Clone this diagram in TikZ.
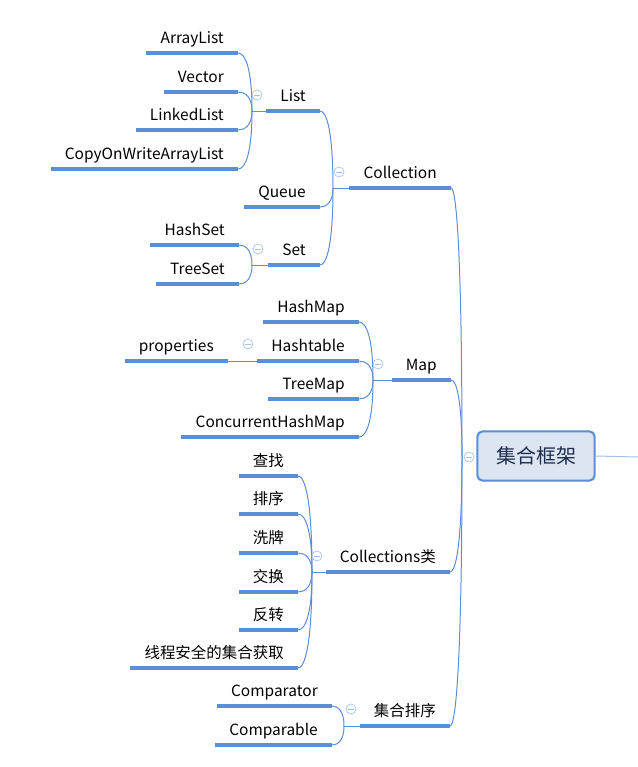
\documentclass[tikz,border=0pt]{standalone}
\usepackage{fontspec}
\setmainfont{Noto Sans CJK SC}
\usetikzlibrary{calc}

\definecolor{xblue}{HTML}{5A8ED6}
\definecolor{xroot}{HTML}{DCE6F2}
\definecolor{xtext}{HTML}{1F2D4D}

\tikzset{
  uline/.style={draw=xblue, line width=2.6pt},
  conn/.style={draw=xblue, line width=0.75pt},
  topic/.style={anchor=south east, inner xsep=10.5pt, inner ysep=4.2pt,
    text height=8.5pt, text depth=2.5pt, font=\fontsize{11.6}{14}\selectfont,
    append after command={(\tikzlastnode.south west) edge[uline] (\tikzlastnode.south east)}},
  rootbox/.style={draw=xblue, line width=1.6pt, rounded corners=4pt, fill=xroot,
    minimum width=88pt, minimum height=37pt, text=xtext, font=\fontsize{15}{18}\selectfont},
  fold/.style={circle, draw=xblue!55, fill=white, line width=0.5pt, inner sep=0pt, minimum size=7.5pt,
    path picture={\draw[xblue!55, line width=0.5pt] ([xshift=-2pt]path picture bounding box.center) -- ([xshift=2pt]path picture bounding box.center);}},
  branch/.style={conn, to path={.. controls ($(\tikztostart)!0.75!(\tikztostart|-\tikztotarget)$)
    and ($(\tikztotarget)!0.5!(\tikztostart|-\tikztotarget)$) .. (\tikztotarget)}}
}

\begin{document}
\begin{tikzpicture}[x=0.75pt, y=-0.75pt]
  \useasboundingbox (0,0) rectangle (638,767);

  % root
  \node[rootbox] (root) at (536,456) {集合框架};
  \coordinate (rootout) at (638,457);
  \draw[conn, xblue!55] (root.east) -- (rootout);

  % joints
  \coordinate (j-root) at (462,457);
  \coordinate (j-coll) at (333,188);
  \coordinate (j-list) at (252,111);
  \coordinate (j-set) at (252,265);
  \coordinate (j-map) at (373,380);
  \coordinate (j-htab) at (243,361);
  \coordinate (j-colls) at (312,572);
  \coordinate (j-sort) at (344,726);

  % first level
  \node[topic] (coll) at (451,188) {Collection};
  \node[topic] (map) at (451,380) {Map};
  \node[topic] (colls) at (450,572) {Collections类};
  \node[topic] (sort) at (450,726) {集合排序};

  % Collection
  \node[topic] (list) at (320,111) {List};
  \node[topic] (queue) at (320,207) {Queue};
  \node[topic] (set) at (320,265) {Set};
  \node[topic] (arraylist) at (238,53) {ArrayList};
  \node[topic] (vector) at (238,92) {Vector};
  \node[topic] (linkedlist) at (238,130) {LinkedList};
  \node[topic] (cowal) at (238,169) {CopyOnWriteArrayList};
  \node[topic] (hashset) at (239,245) {HashSet};
  \node[topic] (treeset) at (239,284) {TreeSet};

  % Map
  \node[topic] (hashmap) at (359,322) {HashMap};
  \node[topic] (hashtable) at (359,361) {Hashtable};
  \node[topic] (treemap) at (359,399) {TreeMap};
  \node[topic] (chm) at (359,437) {ConcurrentHashMap};
  \node[topic] (props) at (228,361) {properties};

  % Collections类
  \node[topic] (find) at (298,476) {查找};
  \node[topic] (order) at (298,514) {排序};
  \node[topic] (shuffle) at (298,553) {洗牌};
  \node[topic] (swap) at (298,592) {交换};
  \node[topic] (reverse) at (298,630) {反转};
  \node[topic] (sync) at (298,668) {线程安全的集合获取};

  % 集合排序
  \node[topic] (comparator) at (332,706) {Comparator};
  \node[topic] (comparable) at (332,745) {Comparable};

  % connectors
  \foreach \t in {coll,map,colls,sort}
    \draw[branch] (j-root) to (\t.south east);
  \foreach \p in {coll,list,set,map,colls,sort}
    \draw[conn] (\p.south west) -- (j-\p);
  \draw[conn] (hashtable.south west) -- (j-htab);
  \foreach \t in {list,queue,set}
    \draw[branch] (j-coll) to (\t.south east);
  \foreach \t in {arraylist,vector,linkedlist,cowal}
    \draw[branch] (j-list) to (\t.south east);
  \foreach \t in {hashset,treeset}
    \draw[branch] (j-set) to (\t.south east);
  \foreach \t in {hashmap,hashtable,treemap,chm}
    \draw[branch] (j-map) to (\t.south east);
  \draw[conn] (j-htab) -- (props.south east);
  \foreach \t in {find,order,shuffle,swap,reverse,sync}
    \draw[branch] (j-colls) to (\t.south east);
  \foreach \t in {comparator,comparable}
    \draw[branch] (j-sort) to (\t.south east);

  % fold markers
  \node[fold] (f-root) at (469,457) {};
  \node[fold] (f-coll) at (339,172) {};
  \node[fold] (f-list) at (257,95) {};
  \node[fold] (f-set) at (258,249) {};
  \node[fold] (f-map) at (378,364) {};
  \node[fold] (f-htab) at (248,344) {};
  \node[fold] (f-colls) at (317,556) {};
  \node[fold] (f-sort) at (351,709) {};
\end{tikzpicture}
\end{document}
